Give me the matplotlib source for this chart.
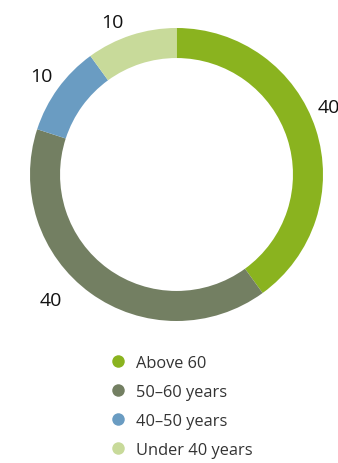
import matplotlib.pyplot as plt
from matplotlib.lines import Line2D

groups = ["Above 60", "50–60 years", "40–50 years", "Under 40 years"]
values = [40, 40, 10, 10]
colors = ["#8ab31f", "#737f62", "#6a9cc2", "#c8da9a"]

W, H = 338, 464
cx, cy, r = 176.5, 288.5, 146.5  # pie centre / radius in pixels (from bottom-left)

fig = plt.figure(figsize=(W / 100, H / 100), dpi=100)
ax = fig.add_axes([0, 0, 1, 1])

wedges, texts = ax.pie(values, colors=colors, startangle=90, counterclock=False,
                       labels=[str(v) for v in values], labeldistance=1.14,
                       wedgeprops=dict(width=0.205, edgecolor="none"),
                       textprops=dict(fontsize=14, color="#111111", family="Open Sans"))
# small nudges (pixels) so the value labels sit where the original puts them
nudges = [(-7, 16), (-28, 10), (0, 0), (-13, -6)]
for t, (dx, dy) in zip(texts, nudges):
    x, y = t.get_position()
    t.set_position((x + dx / r, y + dy / r))
    t.set_ha("center")
    t.set_va("center")

ax.set_aspect("auto")
ax.set_xlim(-cx / r, (W - cx) / r)
ax.set_ylim(-cy / r, (H - cy) / r)
ax.axis("off")

handles = [Line2D([], [], marker="o", linestyle="none", markersize=9,
                  markerfacecolor=c, markeredgecolor="none") for c in colors]
leg = ax.legend(handles, groups, loc="upper left", frameon=False,
                bbox_to_anchor=(98 / W, 1 - 348 / H), bbox_transform=fig.transFigure,
                prop=dict(family="Open Sans", size=11.8), labelcolor="#333333",
                handletextpad=0.4, labelspacing=0.78, handlelength=1.4, borderpad=0)

fig.savefig("out.png", dpi=100)
